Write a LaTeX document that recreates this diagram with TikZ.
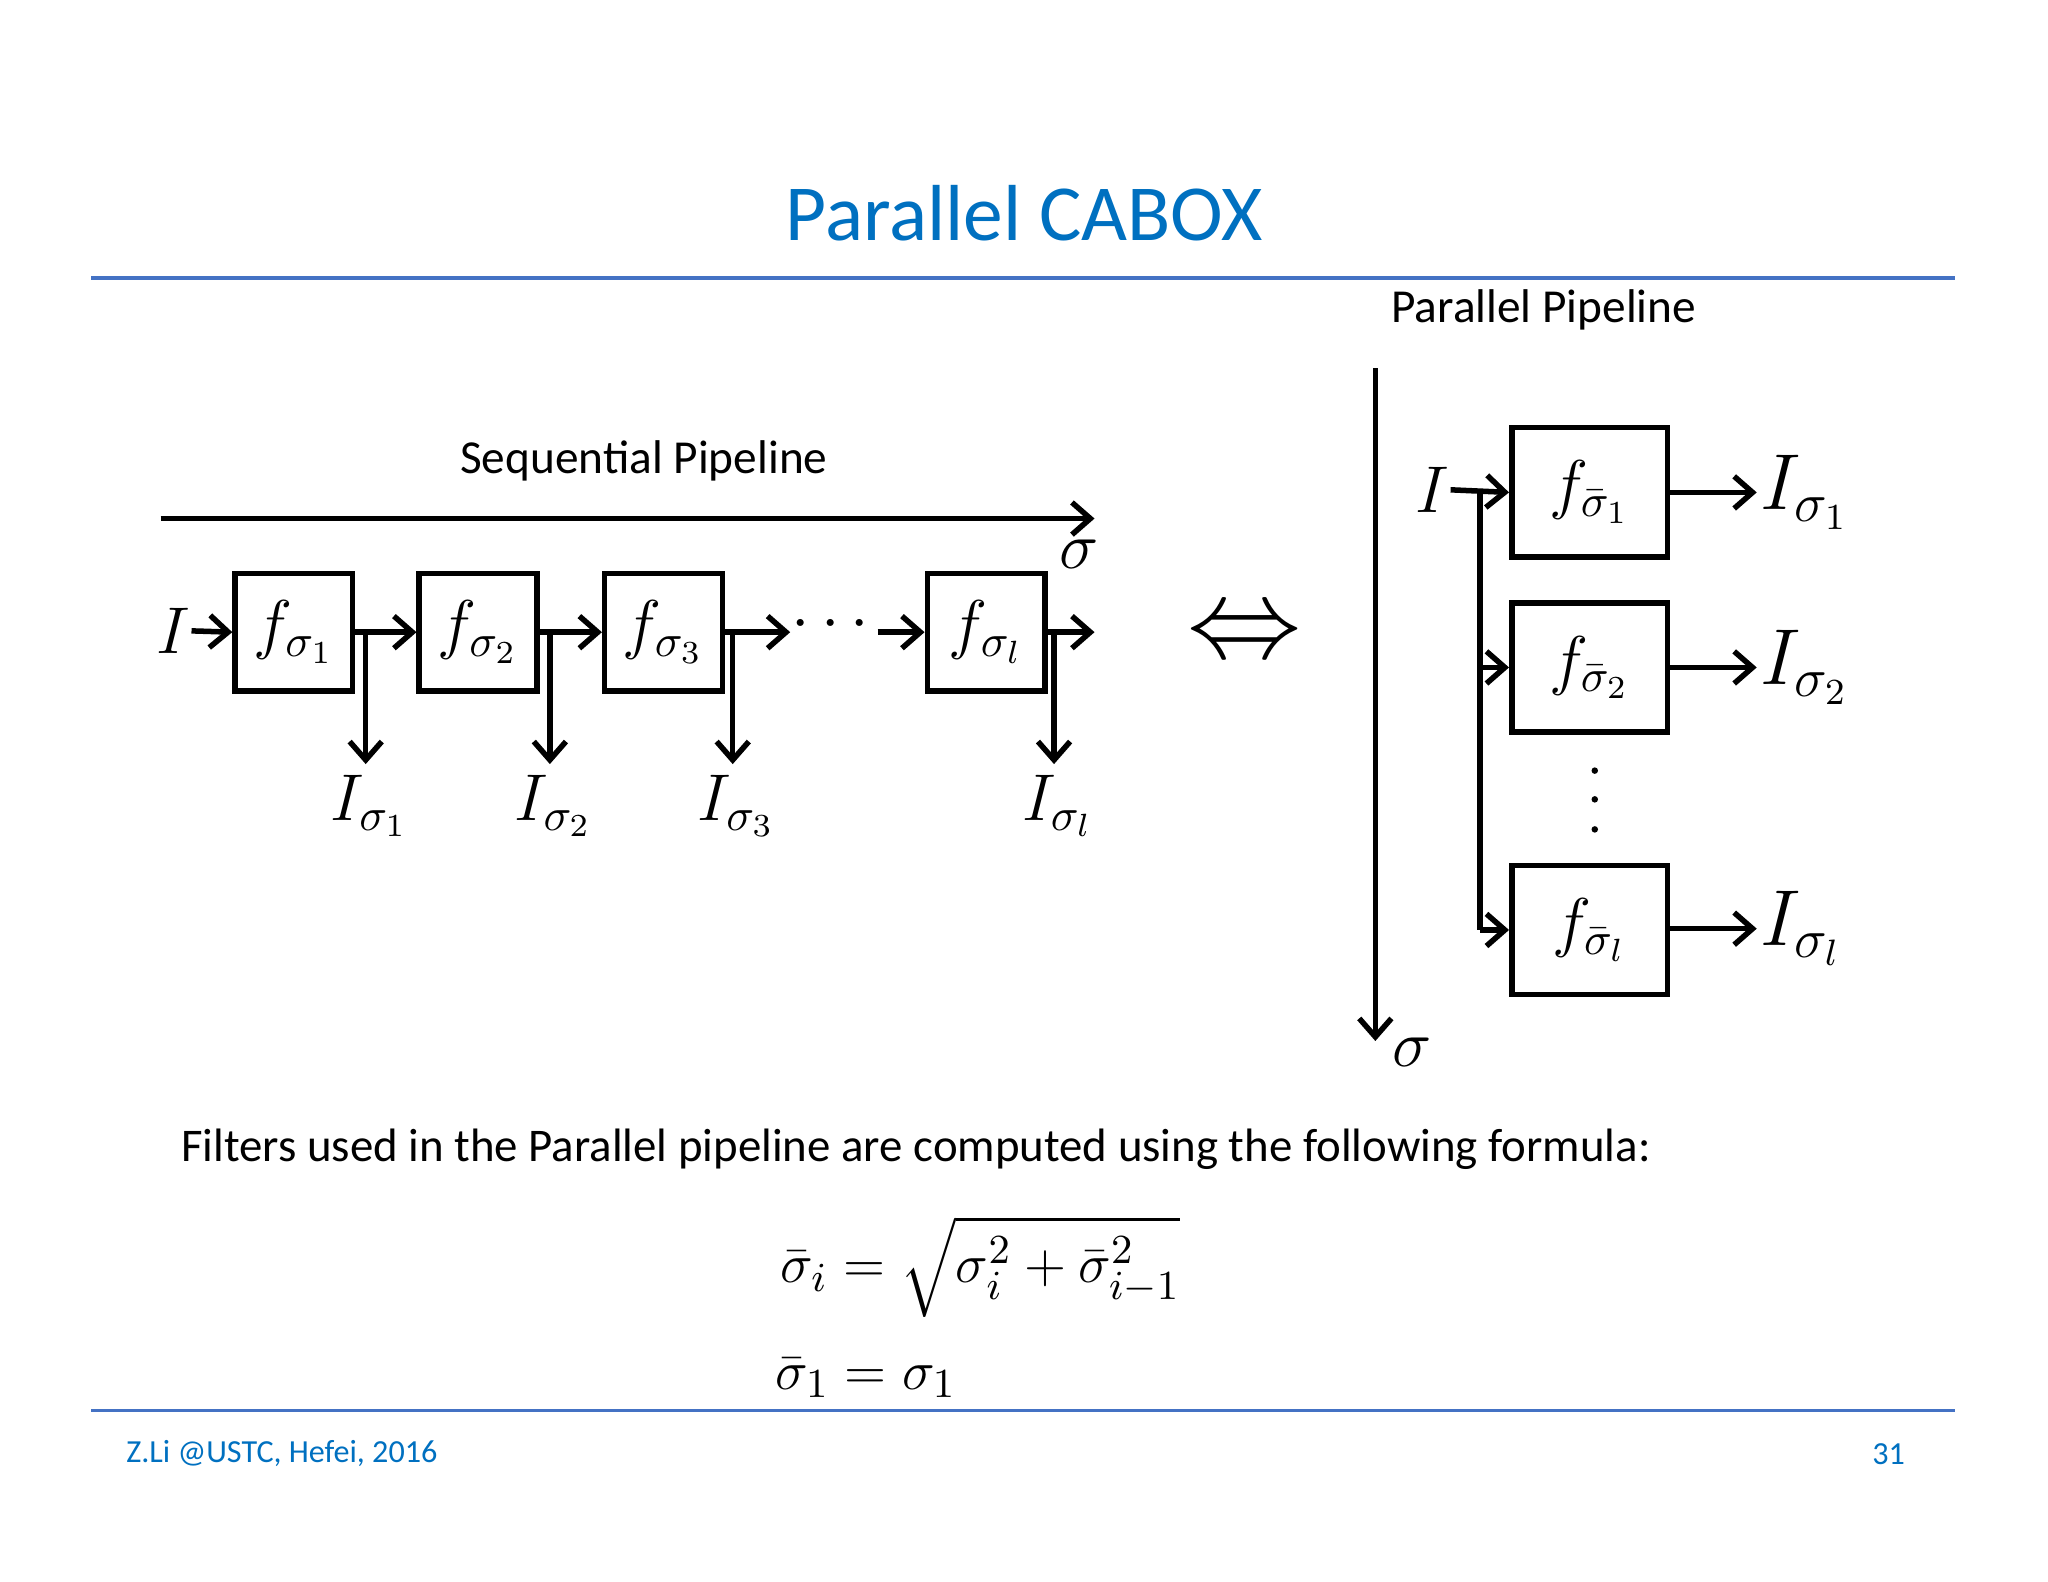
\documentclass[tikz,border=0pt]{standalone}
\usepackage{fontspec}
\usepackage{amsmath}
\setmainfont{Carlito}
\usetikzlibrary{arrows.meta}
\definecolor{ttl}{RGB}{0,112,192}
\definecolor{rule}{RGB}{68,114,196}
\begin{document}
\begin{tikzpicture}[x=0.01cm,y=-0.01cm,
  box/.style={draw,line width=1.2pt,minimum width=0.9cm,minimum height=0.9cm,inner sep=0pt,font=\fontsize{14}{16}\selectfont},
  pbox/.style={draw,line width=1.2pt,minimum width=1.19cm,minimum height=0.99cm,inner sep=0pt,font=\fontsize{14}{16}\selectfont},
  ar/.style={line width=1.2pt,-{Straight Barb[length=4pt,width=7pt]}},
  ln/.style={line width=1.2pt},
  mlab/.style={font=\fontsize{14}{16}\selectfont,inner sep=0pt},
  txt/.style={font=\fontsize{10.3}{12}\selectfont,inner sep=0pt}]
\useasboundingbox (0,0) rectangle (1568,1211);
\node[text=ttl,font=\fontsize{17.3}{20}\selectfont] (title) at (784,163) {Parallel CABOX};
\draw[rule,line width=0.8pt] (70,213) coordinate(r1a) -- (1497,213) coordinate(r1b);
\draw[rule,line width=0.8pt] (70,1080) coordinate(r2a) -- (1497,1080) coordinate(r2b);
\node[text=ttl,font=\fontsize{7}{9}\selectfont,anchor=west,inner sep=0pt] (foot) at (96,1113) {Z.Li @USTC, Hefei, 2016};
\node[text=ttl,font=\fontsize{7}{9}\selectfont] (pg) at (1446,1113) {31};
% sequential
\node[txt] (seq) at (493,353) {Sequential Pipeline};
\coordinate (sa) at (123,397); \coordinate (sb) at (838,397);
\draw[ar] (sa) -- (sb);
\node[mlab] (ssig) at (826,424) {$\sigma$};
\node[box] (b1) at (225,484) {$f_{\sigma_1}$};
\node[box] (b2) at (366,484) {$f_{\sigma_2}$};
\node[box] (b3) at (508,484) {$f_{\sigma_3}$};
\node[box] (bl) at (755,484) {$f_{\sigma_l}$};
\node[mlab] (I) at (133,483) {$I$};
\draw[ar] (I.east) -- (b1.west);
\draw[ar] (b1.east) -- (b2.west);
\draw[ar] (b2.east) -- (b3.west);
\coordinate (d1) at (605,484); \coordinate (d2) at (672,484); \coordinate (eo) at (838,484);
\draw[ar] (b3.east) -- (d1);
\node[mlab] (dots) at (640,478) {$\cdots$};
\draw[ar] (d2) -- (bl.west);
\draw[ar] (bl.east) -- (eo);
\foreach \x/\n/\s in {280/1/1,421/2/2,561/3/3,807/l/l}{
  \coordinate (t\n) at (\x,484); \coordinate (e\n) at (\x,585);
  \draw[ar] (t\n) -- (e\n);
  \node[mlab] (o\n) at (\x+3,617) {$I_{\sigma_\s}$};
}
\node[font=\fontsize{24}{26}\selectfont,inner sep=0pt] (iff) at (953,487) {$\Leftrightarrow$};
% parallel
\node[txt] (par) at (1182,237) {Parallel Pipeline};
\coordinate (va) at (1053,282); \coordinate (vb) at (1053,797);
\draw[ar] (va) -- (vb);
\node[mlab] (psig) at (1081,806) {$\sigma$};
\node[pbox] (p1) at (1217,377) {$f_{\bar\sigma_1}$};
\node[pbox] (p2) at (1217,511) {$f_{\bar\sigma_2}$};
\node[pbox] (pl) at (1217,712) {$f_{\bar\sigma_l}$};
\node[mlab] (PI) at (1097,375) {$I$};
\coordinate (j1) at (1133,375); \coordinate (j2) at (1133,511); \coordinate (j3) at (1133,712);
\draw[ar] (PI.east) -- (p1.west);
\draw[ln] (j1) -- (j3);
\draw[ar] (j2) -- (p2.west);
\draw[ar] (j3) -- (pl.west);
\foreach \n/\y/\s in {1/377/1,2/511/2,l/711/l}{
  \coordinate (q\n) at (1345,\y);
  \draw[ar] (p\n.east|-q\n) -- (q\n);
  \node[mlab,font=\fontsize{17}{19}\selectfont,anchor=west] (po\n) at (1347,\y) {$I_{\sigma_\s}$};
}
\foreach \y in {590,612,635} \fill (1221,\y) circle (2.5);
\node[txt,anchor=west,font=\fontsize{10.2}{12}\selectfont] (fil) at (138,880) {Filters used in the Parallel pipeline are computed using the following formula:};
\node[mlab,anchor=west,font=\fontsize{13}{15}\selectfont] (f1) at (597,970) {$\bar\sigma_i=\sqrt{\sigma_i^2+\bar\sigma_{i-1}^2}$};
\node[mlab,anchor=west,font=\fontsize{13}{15}\selectfont] (f2) at (593,1055) {$\bar\sigma_1=\sigma_1$};
\end{tikzpicture}
\end{document}
